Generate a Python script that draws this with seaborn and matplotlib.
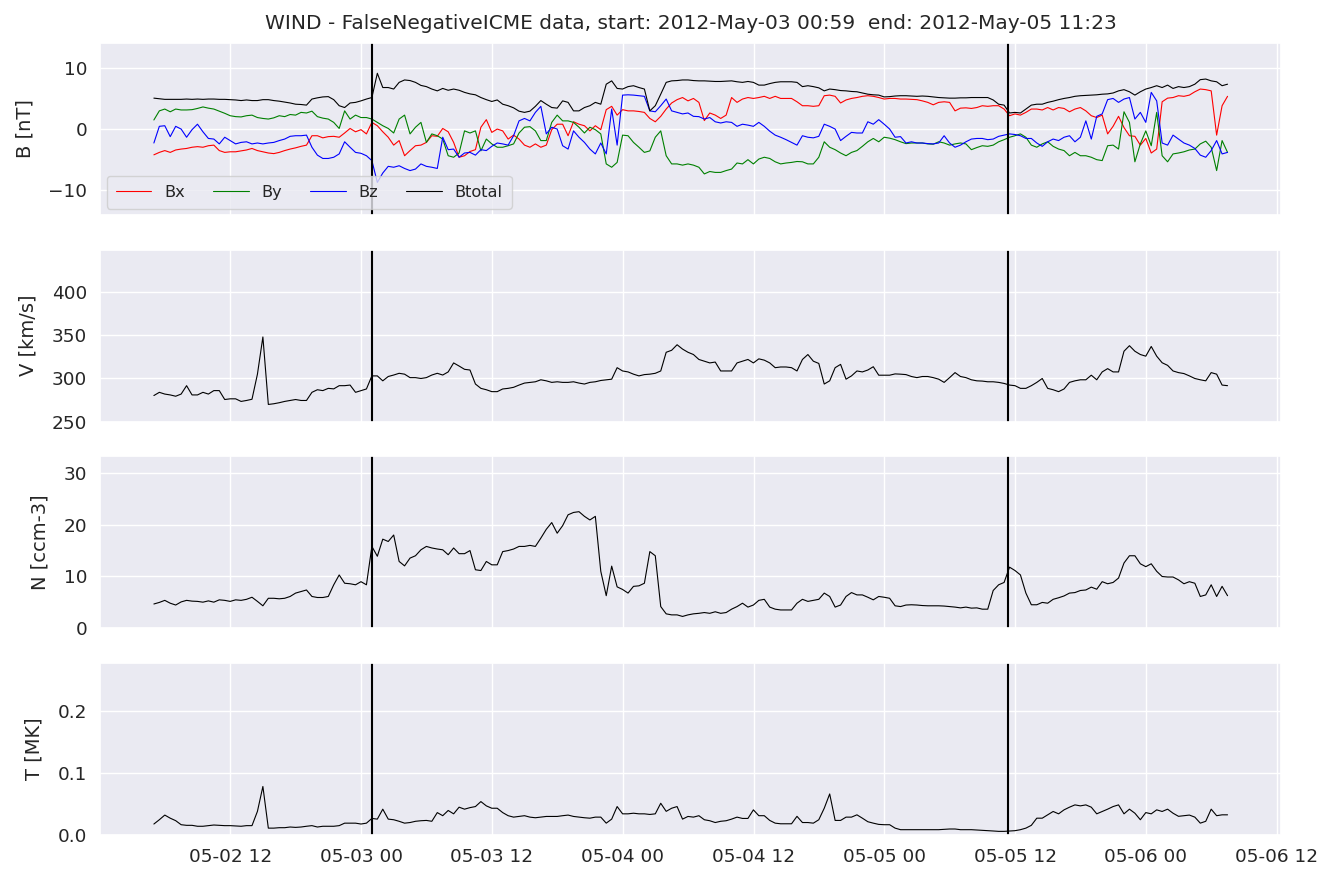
import numpy as np
import pandas as pd
import matplotlib
matplotlib.use("Agg")
import matplotlib.pyplot as plt
import matplotlib.dates as mdates
import seaborn as sns

# ---------------- data (30-min samples) ----------------
start_time = "2012-05-02 04:59"
n_points = 198
icme_start = "2012-05-03 00:59"
icme_end = "2012-05-05 11:23"

btot = [5.1, 5.0, 4.9, 4.9, 4.9, 4.9, 4.95, 4.9, 4.95, 4.9,
        4.95, 4.95, 4.9, 4.9, 4.85, 4.8, 4.7, 4.8, 4.7, 4.7,
        4.85, 4.85, 4.7, 4.6, 4.45, 4.3, 4.1, 4.05, 3.95, 4.95,
        5.15, 5.3, 5.35, 4.85, 3.85, 3.55, 4.3, 4.4, 4.65, 4.95,
        5.2, 9.2, 6.85, 6.85, 6.6, 7.7, 8.1, 8.0, 7.7, 7.2,
        7.0, 6.6, 6.3, 6.7, 6.4, 6.6, 6.4, 6.05, 5.8, 5.65,
        5.2, 4.85, 4.55, 4.8, 4.1, 3.85, 3.5, 2.95, 2.75, 2.95,
        3.75, 4.7, 4.1, 3.55, 3.45, 4.65, 4.4, 3.0, 3.0, 3.55,
        3.85, 4.4, 4.1, 7.4, 7.95, 6.7, 6.6, 7.0, 7.15, 6.85,
        6.6, 3.0, 3.85, 5.75, 7.7, 7.95, 8.0, 8.1, 8.1, 8.0,
        7.95, 7.95, 7.9, 7.85, 7.85, 7.9, 7.95, 7.8, 7.7, 7.85,
        7.7, 7.25, 7.25, 7.5, 7.7, 7.8, 7.8, 7.8, 7.7, 7.0,
        7.15, 7.0, 6.8, 6.3, 6.6, 6.5, 6.35, 6.3, 6.2, 6.15,
        5.95, 5.75, 5.65, 5.6, 5.3, 5.35, 5.45, 5.5, 5.5, 5.45,
        5.4, 5.45, 5.4, 5.3, 5.2, 5.15, 5.1, 5.1, 5.15, 5.15,
        5.2, 5.2, 5.2, 5.2, 4.8, 4.1, 3.95, 2.65, 2.75, 2.65,
        3.3, 3.95, 4.1, 4.1, 4.4, 4.6, 4.85, 5.05, 5.2, 5.4,
        5.5, 5.55, 5.6, 5.65, 5.75, 5.8, 5.95, 6.3, 6.5, 6.15,
        5.6, 6.15, 6.6, 6.85, 7.15, 6.85, 7.25, 6.7, 7.0, 6.85,
        7.0, 7.4, 8.15, 8.25, 7.95, 7.8, 7.15, 7.4]

bx = [-4.25, -3.85, -3.55, -3.85, -3.45, -3.3, -3.2, -3.0, -2.9, -3.0,
      -2.75, -2.65, -3.55, -3.85, -3.75, -3.75, -3.6, -3.45, -3.2, -3.55,
      -3.75, -3.95, -4.05, -3.85, -3.55, -3.3, -3.1, -2.85, -2.65, -1.1,
      -1.1, -1.45, -1.25, -1.2, -1.35, -0.65, 0.1, -0.45, -0.1, -0.8,
      1.1, 0.55, -0.45, -1.35, -2.65, -1.9, -4.4, -3.55, -2.75, -2.65,
      -2.2, -1.1, -1.2, 0.1, -0.45, -2.2, -4.65, -4.4, -3.7, -3.4,
      0.3, 1.55, -0.55, 0.0, -0.3, -1.65, -1.0, -1.65, -2.65, -3.0,
      -2.45, -3.0, -2.65, -0.1, 0.8, 0.8, -1.1, 1.2, 0.8, 0.55,
      -0.3, 0.55, -0.1, 3.2, 3.75, 2.3, 3.2, 3.0, 3.0, 2.9,
      2.75, 1.75, 1.2, 2.1, 3.3, 4.3, 4.85, 5.2, 4.65, 5.05,
      4.4, 1.4, 2.65, 2.3, 1.75, 2.3, 5.2, 4.4, 4.95, 5.2,
      5.05, 5.2, 5.4, 5.05, 5.4, 5.05, 5.05, 5.05, 4.5, 3.85,
      3.85, 3.75, 3.85, 5.5, 5.6, 5.4, 4.3, 4.8, 5.05, 5.2,
      5.4, 5.5, 5.4, 5.2, 4.95, 5.05, 5.05, 4.95, 4.95, 4.9,
      4.85, 4.65, 4.4, 4.0, 4.4, 4.5, 4.4, 3.0, 3.45, 3.5,
      3.4, 3.55, 3.85, 3.75, 3.85, 3.85, 3.3, 2.2, 2.5, 2.3,
      2.75, 3.3, 3.3, 3.15, 3.55, 3.15, 3.55, 3.4, 2.85, 3.3,
      3.55, 3.0, 2.2, 1.9, 2.3, -0.8, 0.45, 2.1, 0.25, -1.1,
      -1.2, -2.65, -1.55, -3.95, -3.3, 4.5, 5.1, 5.2, 5.5, 5.4,
      5.6, 6.15, 6.6, 6.5, 6.3, -1.0, 3.85, 5.4]

by = [1.5, 3.0, 3.3, 2.85, 3.3, 3.15, 3.15, 3.2, 3.4, 3.65,
      3.45, 3.3, 2.95, 2.6, 2.2, 2.05, 2.0, 2.2, 2.3, 1.9,
      1.75, 1.65, 1.85, 2.2, 2.05, 2.4, 2.3, 2.75, 2.65, 2.95,
      2.05, 1.8, 1.65, 1.1, 0.1, 3.0, 1.65, 2.3, 1.9, 1.9,
      1.65, 1.1, 0.55, 0.1, -0.65, 1.65, 2.3, -0.8, 0.3, 1.1,
      -2.2, -0.8, -1.1, -1.65, -4.4, -4.65, -3.95, -0.3, -0.65, -0.3,
      -3.6, -1.65, -2.45, -3.0, -3.0, -2.75, -2.45, -0.65, 0.3, 0.4,
      -0.3, -1.9, -1.9, 1.1, 2.3, 1.35, 1.35, 1.1, 0.3, -0.65,
      0.3, -0.1, -0.8, -5.75, -6.3, -5.5, -1.0, -1.1, -2.2, -3.0,
      -3.85, -3.6, -1.35, -0.3, -4.4, -5.75, -5.75, -5.95, -5.75, -5.95,
      -6.3, -7.4, -7.0, -7.15, -7.15, -6.85, -6.6, -5.6, -5.75, -5.05,
      -5.75, -4.95, -4.65, -4.85, -5.4, -5.75, -5.6, -5.5, -5.35, -5.4,
      -5.75, -5.75, -4.65, -2.1, -3.0, -3.4, -3.95, -4.4, -3.85, -3.55,
      -2.85, -2.1, -1.55, -2.1, -1.35, -1.5, -1.75, -2.1, -2.4, -2.3,
      -2.3, -2.3, -2.45, -2.5, -2.1, -2.3, -2.65, -2.45, -2.3, -2.45,
      -3.4, -3.05, -2.75, -2.85, -2.65, -2.1, -1.75, -1.35, -1.1, -0.8,
      -1.35, -2.65, -3.0, -2.45, -2.1, -2.85, -3.3, -3.55, -4.4, -3.85,
      -4.4, -4.4, -4.65, -5.05, -5.2, -2.75, -2.65, -3.3, 2.85, 1.1,
      -5.4, -2.45, -0.3, -2.75, 2.75, -4.4, -5.4, -4.1, -3.95, -3.75,
      -3.45, -3.3, -2.45, -2.0, -3.0, -6.85, -1.9, -3.85]

bz = [-2.3, 0.45, 0.55, -1.25, 0.45, 0.0, -1.35, -0.1, 0.8, -0.45,
      -1.55, -1.65, -2.45, -1.35, -1.9, -2.45, -2.2, -2.1, -2.45, -2.3,
      -2.45, -2.3, -2.2, -1.9, -1.65, -1.2, -1.1, -1.1, -1.0, -3.0,
      -4.3, -4.85, -4.85, -4.65, -4.1, -2.1, -3.0, -3.85, -4.0, -4.4,
      -5.2, -8.8, -7.25, -6.15, -6.3, -6.05, -6.5, -6.85, -6.6, -5.75,
      -6.15, -6.3, -6.5, -1.35, -3.4, -3.3, -4.65, -3.95, -3.85, -4.3,
      -3.4, -3.55, -2.85, -2.3, -2.45, -2.65, -1.1, 1.35, 1.75, 1.35,
      2.75, 3.75, -0.8, 0.3, 0.0, -2.75, -3.3, -0.3, -1.35, -2.2,
      -3.3, -4.1, -2.3, -4.1, 3.3, -2.65, 5.6, 5.65, 5.6, 5.5,
      5.4, 3.0, 2.85, 3.85, 4.95, 3.0, 2.75, 2.5, 2.65, 2.1,
      2.05, 1.65, 1.9, 1.2, 1.0, 1.2, 1.1, 0.45, 0.8, 0.65,
      0.45, 1.1, 0.45, -0.35, -1.0, -1.35, -1.75, -2.2, -2.65, -1.1,
      -1.35, -1.45, -1.2, 0.8, 0.45, 0.0, -1.9, -1.2, -0.55, -0.65,
      -0.65, 1.2, 0.8, 1.55, 0.8, 0.0, -1.35, -1.25, -2.3, -2.1,
      -2.3, -2.3, -2.4, -2.45, -2.3, -1.1, -2.3, -3.0, -2.65, -2.1,
      -1.65, -1.55, -1.55, -1.75, -1.65, -1.2, -1.0, -0.8, -0.9, -1.1,
      -1.55, -1.55, -2.3, -2.85, -2.1, -1.65, -1.9, -1.35, -1.1, -2.1,
      -1.35, 1.35, -1.65, 2.1, 2.5, 4.85, 5.05, 4.4, 4.95, 5.2,
      1.65, 2.75, 1.1, 6.05, 4.65, -2.3, -2.65, -1.0, -1.65, -2.3,
      -2.65, -3.2, -4.3, -4.65, -3.55, -1.9, -4.1, -3.85]

speed = [280.3, 284.0, 282.0, 281.0, 279.5, 282.0, 291.7, 281.0, 281.0, 284.0,
         282.0, 286.0, 286.0, 275.7, 276.5, 276.5, 273.5, 274.6, 276.0, 305.0,
         348.0, 270.0, 270.8, 272.0, 273.5, 274.6, 275.7, 274.6, 274.6, 284.0,
         287.0, 286.0, 288.6, 288.0, 291.7, 291.7, 292.4, 284.0, 286.0, 287.9,
         303.0, 303.0, 297.3, 302.3, 304.0, 306.0, 305.0, 301.0, 301.0, 300.0,
         301.0, 304.0, 306.0, 304.0, 307.6, 318.0, 314.4, 310.6, 309.8, 293.6,
         288.6, 287.0, 284.8, 284.8, 287.9, 288.6, 289.8, 292.4, 294.7, 295.5,
         296.2, 298.5, 297.3, 295.5, 296.2, 295.5, 295.5, 296.2, 294.7, 293.6,
         295.5, 296.2, 297.7, 298.5, 299.2, 312.5, 308.7, 307.6, 305.0, 303.0,
         304.5, 305.0, 306.0, 308.7, 330.3, 332.6, 339.0, 334.0, 330.3, 327.7,
         322.0, 320.0, 318.0, 319.0, 308.7, 308.7, 308.7, 318.0, 320.0, 322.0,
         318.0, 322.7, 321.2, 318.0, 312.5, 313.3, 313.3, 312.5, 308.7, 322.0,
         327.7, 320.0, 317.4, 293.6, 297.3, 312.5, 316.3, 299.2, 303.0, 308.7,
         307.6, 309.8, 313.6, 303.8, 303.8, 303.8, 305.3, 305.0, 304.5, 302.3,
         301.0, 302.3, 302.3, 301.0, 299.2, 295.5, 301.0, 306.8, 302.3, 301.0,
         298.5, 297.3, 297.0, 296.2, 296.2, 295.5, 294.3, 292.4, 291.7, 288.6,
         288.6, 291.7, 295.5, 300.0, 288.6, 287.0, 284.8, 287.9, 295.5, 297.3,
         298.5, 298.5, 303.8, 298.5, 307.6, 311.4, 307.6, 307.6, 331.5, 337.9,
         331.5, 327.7, 325.8, 337.0, 325.8, 318.2, 315.2, 308.7, 306.8, 305.7,
         303.0, 300.0, 298.5, 297.3, 306.8, 305.0, 292.4, 291.7]

density = [4.7, 5.0, 5.4, 4.85, 4.5, 5.1, 5.4, 5.25, 5.2, 5.05,
           5.3, 5.05, 5.5, 5.4, 5.2, 5.5, 5.4, 5.6, 6.0, 5.2,
           4.35, 5.8, 5.8, 5.7, 5.8, 6.15, 6.8, 7.1, 7.4, 6.15,
           5.95, 5.95, 6.15, 8.4, 10.3, 8.7, 8.6, 8.4, 9.0, 8.4,
           15.8, 13.9, 17.2, 16.75, 18.0, 12.9, 12.05, 13.55, 14.0, 15.15,
           15.8, 15.5, 15.3, 15.15, 14.2, 15.5, 14.4, 14.4, 15.0, 11.3,
           11.15, 12.9, 12.25, 12.25, 14.8, 15.0, 15.3, 15.8, 15.8, 16.0,
           15.8, 17.4, 19.1, 20.4, 18.35, 19.8, 21.9, 22.35, 22.5, 21.6,
           20.9, 21.6, 11.0, 6.3, 12.0, 8.0, 7.5, 6.8, 8.1, 8.2,
           8.7, 14.8, 14.0, 4.2, 2.8, 2.6, 2.6, 2.3, 2.6, 2.8,
           2.9, 3.05, 2.9, 3.2, 2.9, 3.05, 3.7, 4.2, 4.85, 4.1,
           4.5, 5.4, 5.6, 4.1, 3.7, 3.55, 3.55, 3.55, 4.85, 5.6,
           5.2, 5.4, 5.6, 6.8, 6.15, 4.1, 4.5, 6.15, 6.9, 6.45,
           6.45, 6.0, 5.5, 6.15, 6.0, 5.8, 4.35, 4.2, 4.5, 4.55,
           4.5, 4.4, 4.35, 4.35, 4.35, 4.3, 4.2, 4.1, 3.95, 4.1,
           3.9, 3.95, 3.7, 3.7, 7.3, 8.4, 8.85, 11.8, 11.15, 10.3,
           6.8, 4.55, 4.55, 5.0, 4.85, 5.6, 5.9, 6.25, 6.8, 6.9,
           7.3, 7.4, 7.95, 7.55, 9.0, 8.6, 8.85, 9.7, 12.6, 14.0,
           14.0, 12.45, 11.9, 12.45, 11.0, 10.0, 9.9, 9.9, 9.35, 8.6,
           9.0, 8.7, 6.15, 6.45, 8.4, 6.15, 8.1, 6.3]

temperature = [0.0176, 0.0245, 0.032, 0.027, 0.023, 0.0165, 0.0155, 0.0155, 0.014, 0.014,
               0.015, 0.016, 0.0155, 0.015, 0.015, 0.0145, 0.014, 0.015, 0.015, 0.038,
               0.078, 0.011, 0.011, 0.0117, 0.0117, 0.0128, 0.0122, 0.0128, 0.014, 0.015,
               0.0128, 0.014, 0.014, 0.014, 0.015, 0.019, 0.019, 0.019, 0.0176, 0.019,
               0.0266, 0.0255, 0.0415, 0.0255, 0.0245, 0.022, 0.019, 0.020, 0.022, 0.0229,
               0.0234, 0.022, 0.036, 0.031, 0.0394, 0.034, 0.0447, 0.0415, 0.044, 0.0457,
               0.0537, 0.0468, 0.043, 0.043, 0.036, 0.031, 0.0287, 0.0298, 0.031, 0.0287,
               0.0277, 0.0287, 0.0298, 0.0298, 0.0298, 0.031, 0.032, 0.0298, 0.0287, 0.0277,
               0.027, 0.0287, 0.0287, 0.019, 0.0255, 0.0457, 0.034, 0.034, 0.035, 0.034,
               0.034, 0.033, 0.034, 0.051, 0.038, 0.043, 0.0457, 0.0255, 0.0298, 0.0287,
               0.031, 0.0245, 0.0229, 0.020, 0.022, 0.0229, 0.0255, 0.0287, 0.0266, 0.0266,
               0.0404, 0.031, 0.031, 0.0234, 0.019, 0.018, 0.018, 0.018, 0.030, 0.020,
               0.020, 0.019, 0.0245, 0.043, 0.066, 0.0234, 0.0234, 0.0287, 0.0287, 0.0324,
               0.027, 0.0213, 0.019, 0.017, 0.0165, 0.0165, 0.011, 0.0085, 0.0085, 0.0085,
               0.0085, 0.0085, 0.0085, 0.0085, 0.0085, 0.009, 0.0096, 0.0096, 0.0085, 0.0085,
               0.0085, 0.008, 0.0074, 0.0069, 0.0064, 0.0058, 0.0058, 0.0064, 0.0069, 0.0085,
               0.011, 0.0155, 0.027, 0.027, 0.0324, 0.0378, 0.034, 0.0404, 0.0447, 0.0484,
               0.0468, 0.0484, 0.0447, 0.034, 0.0378, 0.0415, 0.0457, 0.0484, 0.034, 0.0415,
               0.035, 0.0245, 0.036, 0.034, 0.0404, 0.0378, 0.0415, 0.035, 0.030, 0.031,
               0.032, 0.0287, 0.019, 0.022, 0.0415, 0.031, 0.0324, 0.0324]

title_text = "WIND - FalseNegativeICME data, start: 2012-May-03 00:59  end: 2012-May-05 11:23"

# ---------------- plotting ----------------
sns.set_theme(style="darkgrid")
plt.rcParams["font.family"] = ["DejaVu Sans"]

times = pd.date_range(start_time, periods=n_points, freq="30min")
df = pd.DataFrame({"time": times, "Bx": bx, "By": by, "Bz": bz, "Btotal": btot,
                   "V": speed, "N": density, "T": temperature})

fig, axes = plt.subplots(4, 1, figsize=(13.36, 8.86), dpi=100, sharex=True)
fig.subplots_adjust(left=0.075, right=0.959, top=0.9515, bottom=0.0576, hspace=0.2)

lw = 0.8
label_fs = 14
tick_fs = 13.3
lpad = 10

ax = axes[0]
for name, col in [("Bx", "red"), ("By", "green"), ("Bz", "blue"), ("Btotal", "black")]:
    sns.lineplot(data=df, x="time", y=name, ax=ax, color=col, linewidth=lw, label=name)
ax.set_ylim(-14.2, 14.2)
ax.set_yticks([-10, 0, 10])
ax.set_ylabel("B [nT]", fontsize=label_fs, labelpad=lpad)
ax.legend(loc="lower left", ncol=4, fontsize=11.7, handlelength=2.2, columnspacing=1.7,
          borderaxespad=0.4, borderpad=0.55)
ax.set_title(title_text, fontsize=14.5, pad=10)

sns.lineplot(data=df, x="time", y="V", ax=axes[1], color="black", linewidth=lw)
axes[1].set_ylim(250, 449)
axes[1].set_yticks([250, 300, 350, 400])
axes[1].set_ylabel("V [km/s]", fontsize=label_fs, labelpad=lpad)

sns.lineplot(data=df, x="time", y="N", ax=axes[2], color="black", linewidth=lw)
axes[2].set_ylim(0, 33.2)
axes[2].set_yticks([0, 10, 20, 30])
axes[2].set_ylabel("N [ccm-3]", fontsize=label_fs, labelpad=lpad)

sns.lineplot(data=df, x="time", y="T", ax=axes[3], color="black", linewidth=lw)
axes[3].set_ylim(0, 0.277)
axes[3].set_yticks([0.0, 0.1, 0.2])
axes[3].set_ylabel("T [MK]", fontsize=label_fs, labelpad=lpad)

for a in axes:
    a.axvline(pd.Timestamp(icme_start), color="black", linewidth=1.5)
    a.axvline(pd.Timestamp(icme_end), color="black", linewidth=1.5)
    a.set_xlabel("")
    a.tick_params(axis="both", labelsize=tick_fs)

axes[3].xaxis.set_major_locator(mdates.HourLocator(byhour=[0, 12]))
axes[3].xaxis.set_major_formatter(mdates.DateFormatter("%m-%d %H"))

fig.savefig("out.png", dpi=100)
